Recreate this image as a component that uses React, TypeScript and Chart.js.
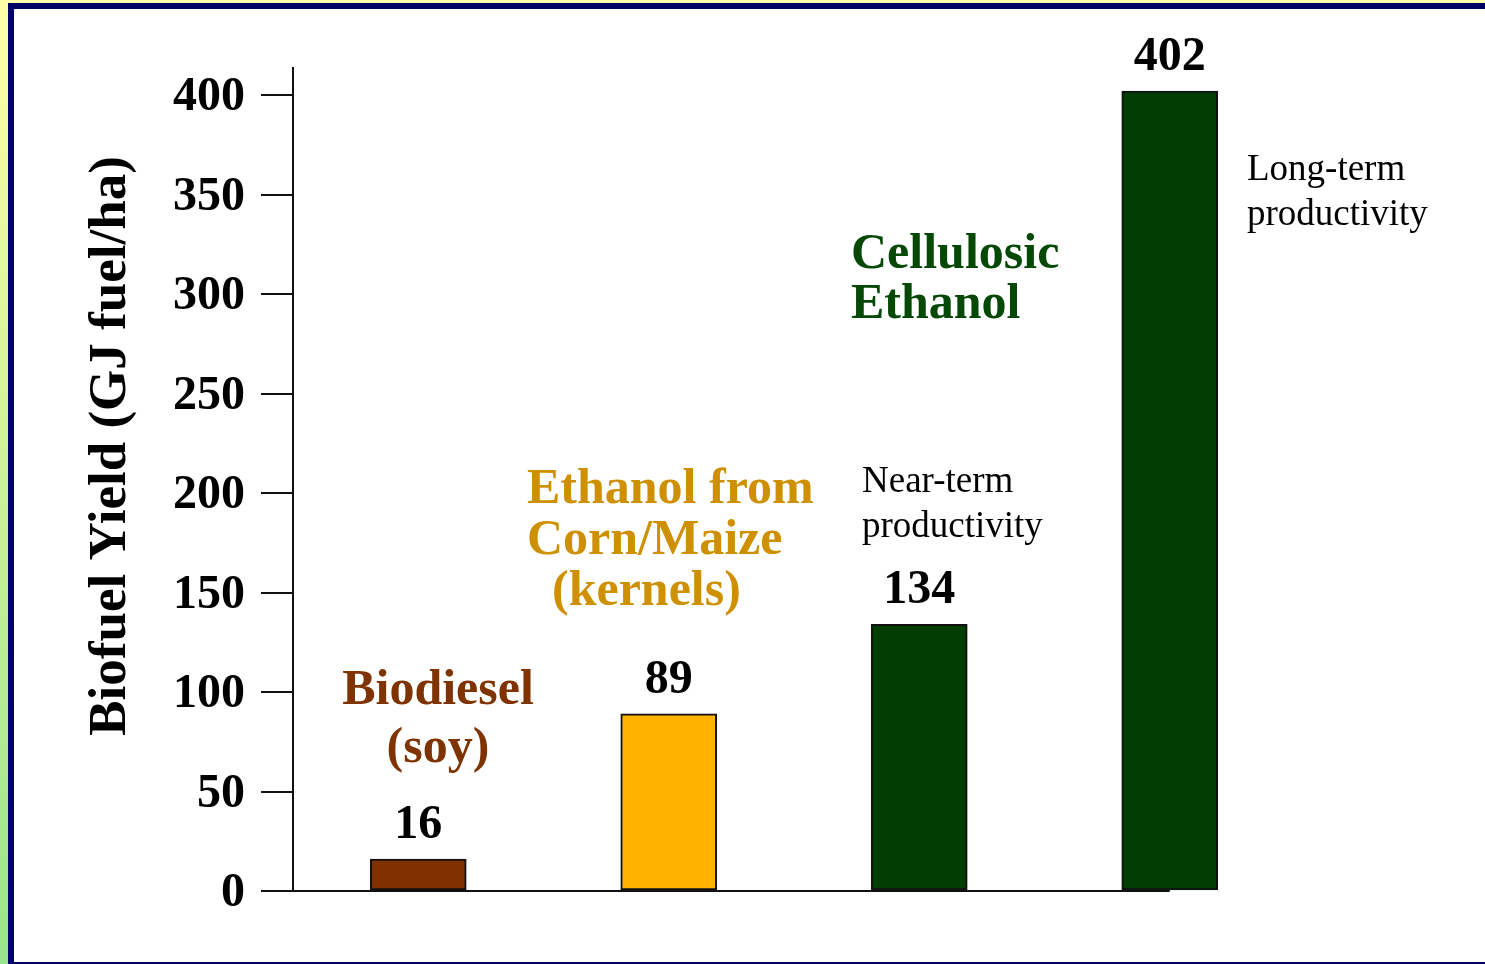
import React, { useEffect, useRef } from "react";
import { Chart, registerables } from "chart.js";

Chart.register(...registerables);

// ---------- data ----------
const categories = [
  "Biodiesel (soy)",
  "Ethanol from Corn/Maize (kernels)",
  "Cellulosic Ethanol (near-term)",
  "Cellulosic Ethanol (long-term)",
];
const yieldValues = [16, 89, 134, 402];
const valueLabels = ["16", "89", "134", "402"];
const yTicks = [0, 50, 100, 150, 200, 250, 300, 350, 400];
const yAxisTitle = "Biofuel Yield (GJ fuel/ha)";
const biodieselLabel = ["Biodiesel", "(soy)"];
const cornLabel = ["Ethanol from", "Corn/Maize", "(kernels)"];
const cellulosicLabel = ["Cellulosic", "Ethanol"];
const nearTermLabel = ["Near-term", "productivity"];
const longTermLabel = ["Long-term", "productivity"];

// ---------- styles ----------
const SERIF = "'Liberation Serif', 'Times New Roman', serif";
const barColors = ["#7F3100", "#FFB300", "#023D02", "#023D02"];

const annotations = [
  { lines: biodieselLabel, x: 438, y: 704, lh: 58, align: "center", color: "#7F3300", font: `bold 50px ${SERIF}`, indent: [0, 0] },
  { lines: cornLabel, x: 527, y: 503, lh: 51, align: "left", color: "#CF9000", font: `bold 50px ${SERIF}`, indent: [0, 0, 25] },
  { lines: cellulosicLabel, x: 851, y: 268, lh: 50, align: "left", color: "#064806", font: `bold 50px ${SERIF}`, indent: [0, 0] },
  { lines: nearTermLabel, x: 862, y: 492, lh: 45, align: "left", color: "#000000", font: `37px ${SERIF}`, indent: [0, 0] },
  { lines: longTermLabel, x: 1247, y: 180, lh: 45, align: "left", color: "#000000", font: `37px ${SERIF}`, indent: [0, 0] },
];

const decorPlugin = {
  id: "decor",
  beforeDatasetsDraw(chart: any) {
    const { ctx, chartArea } = chart;
    const meta = chart.getDatasetMeta(0);
    const last = meta.data[meta.data.length - 1];
    const y0 = chart.scales.y.getPixelForValue(0);
    ctx.save();
    ctx.strokeStyle = "#111";
    ctx.lineWidth = 2;
    ctx.beginPath();
    ctx.moveTo(chartArea.left, y0);
    ctx.lineTo(last.x, y0);
    ctx.stroke();
    ctx.restore();
  },
  afterDatasetsDraw(chart: any) {
    const { ctx } = chart;
    const meta = chart.getDatasetMeta(0);
    ctx.save();
    ctx.fillStyle = "#000";
    ctx.font = `bold 48px ${SERIF}`;
    ctx.textAlign = "center";
    ctx.textBaseline = "alphabetic";
    meta.data.forEach((bar: any, i: number) => {
      ctx.fillText(valueLabels[i], bar.x, bar.y - 21);
    });
    // axis title
    ctx.save();
    ctx.translate(125, 446);
    ctx.rotate(-Math.PI / 2);
    ctx.font = `bold 53px ${SERIF}`;
    ctx.textAlign = "center";
    ctx.fillText(yAxisTitle, 0, 0);
    ctx.restore();
    // category annotations
    annotations.forEach((a) => {
      ctx.font = a.font;
      ctx.fillStyle = a.color;
      ctx.textAlign = a.align as CanvasTextAlign;
      a.lines.forEach((line, j) => {
        ctx.fillText(line, a.x + (a.indent[j] || 0), a.y + j * a.lh);
      });
    });
    ctx.restore();
  },
};

export default function App() {
  const ref = useRef<HTMLCanvasElement>(null);
  useEffect(() => {
    if (!ref.current) return;
    const chart = new Chart(ref.current, {
      type: "bar",
      data: {
        labels: categories,
        datasets: [
          {
            data: yieldValues,
            backgroundColor: barColors,
            borderColor: "#111",
            borderWidth: 2,
            borderSkipped: false,
            barThickness: 96,
          },
        ],
      },
      options: {
        responsive: false,
        animation: false,
        devicePixelRatio: 1,
        layout: { padding: { left: 0, top: 68, right: 190, bottom: 73 } },
        plugins: { legend: { display: false }, tooltip: { enabled: false }, title: { display: false } },
        scales: {
          x: { display: false, offset: true },
          y: {
            min: 0,
            max: 413.6,
            afterBuildTicks: (scale: any) => {
              scale.ticks = yTicks.map((v) => ({ value: v }));
            },
            afterFit: (scale: any) => {
              scale.width = 293;
            },
            grid: {
              display: true,
              drawOnChartArea: false,
              drawTicks: true,
              tickLength: 32,
              color: "#111",
              lineWidth: 2,
            },
            border: { display: true, color: "#111", width: 2 },
            ticks: {
              padding: 16,
              color: "#000",
              labelOffset: 3,
              font: { family: SERIF, size: 48, weight: "bold" },
            },
          },
        },
      },
      plugins: [decorPlugin],
    });
    return () => chart.destroy();
  }, []);

  return (
    <div
      style={{
        position: "fixed",
        left: 0,
        top: 0,
        width: 1485,
        height: 964,
        overflow: "hidden",
        background: "linear-gradient(#FFFFA8, #98E48A)",
      }}
    >
      <div
        style={{
          position: "absolute",
          left: 8,
          top: 3,
          width: 1500,
          height: 953,
          background: "#fff",
          borderLeft: "6px solid #000066",
          borderTop: "6px solid #000066",
          borderBottom: "6px solid #000066",
        }}
      />
      <canvas
        ref={ref}
        width={1485}
        height={964}
        style={{ position: "absolute", left: 0, top: 0, display: "block" }}
      />
    </div>
  );
}
